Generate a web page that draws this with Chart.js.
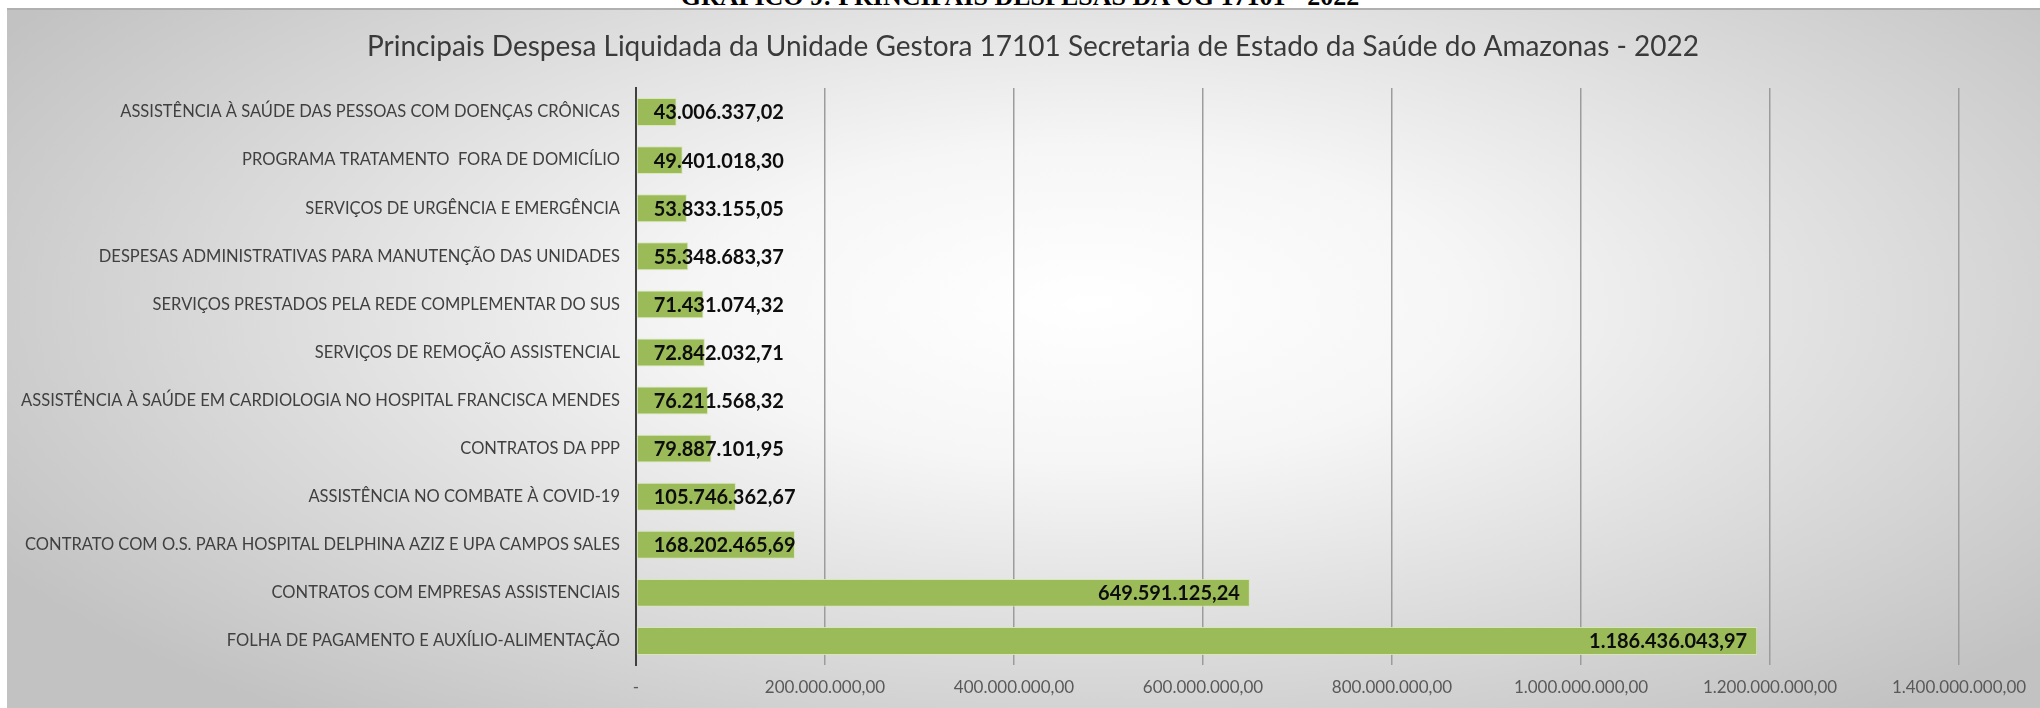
<!DOCTYPE html>
<html>
<head>
<meta charset="utf-8">
<script src="https://cdn.jsdelivr.net/npm/chart.js@4.4.1/dist/chart.umd.min.js"></script>
<style>
  html, body { margin: 0; padding: 0; background: #ffffff; }
  body { width: 2040px; height: 708px; position: relative; overflow: hidden; }
  #header {
    position: absolute; left: 0; top: -16px; width: 2040px;
    text-align: center;
    font-family: "Liberation Serif", serif; font-weight: bold; font-size: 26px; color: #000;
    line-height: 26px;
  }
  #frame {
    position: absolute; left: 7px; top: 8px; width: 2033px; height: 700px;
    border-top: 2px solid #b0b0b0;
    background: radial-gradient(ellipse 62% 75% at 53% 42%, #ffffff 0%, #f6f6f6 30%, #dcdcdc 65%, #c2c2c2 100%);
  }
</style>
</head>
<body>
<div id="header">GRÁFICO 9: PRINCIPAIS DESPESAS DA UG 17101 - 2022</div>
<div id="frame"><canvas id="despesasChart" width="2033" height="698"></canvas></div>
<script>
// Categories (top to bottom) and liquidated values
const categories = [
    'ASSISTÊNCIA À SAÚDE DAS PESSOAS COM DOENÇAS CRÔNICAS',
    'PROGRAMA TRATAMENTO  FORA DE DOMICÍLIO',
    'SERVIÇOS DE URGÊNCIA E EMERGÊNCIA',
    'DESPESAS ADMINISTRATIVAS PARA MANUTENÇÃO DAS UNIDADES',
    'SERVIÇOS PRESTADOS PELA REDE COMPLEMENTAR DO SUS',
    'SERVIÇOS DE REMOÇÃO ASSISTENCIAL',
    'ASSISTÊNCIA À SAÚDE EM CARDIOLOGIA NO HOSPITAL FRANCISCA MENDES',
    'CONTRATOS DA PPP',
    'ASSISTÊNCIA NO COMBATE À COVID-19',
    'CONTRATO COM O.S. PARA HOSPITAL DELPHINA AZIZ E UPA CAMPOS SALES',
    'CONTRATOS COM EMPRESAS ASSISTENCIAIS',
    'FOLHA DE PAGAMENTO E AUXÍLIO-ALIMENTAÇÃO'
];
const despesaLiquidada = [
    43006337.02, 49401018.30, 53833155.05, 55348683.37, 71431074.32, 72842032.71,
    76211568.32, 79887101.95, 105746362.67, 168202465.69, 649591125.24, 1186436043.97
];
const xTicks = [0, 200000000, 400000000, 600000000, 800000000, 1000000000, 1200000000, 1400000000];

const chartTitle = 'Principais Despesa Liquidada da Unidade Gestora 17101 Secretaria de Estado da Saúde do Amazonas - 2022';

// pt-BR number format: 1.234.567,89
function formatBR(v) {
    const parts = v.toFixed(2).split('.');
    const intPart = parts[0].replace(/\B(?=(\d{3})+(?!\d))/g, '.');
    return intPart + ',' + parts[1];
}

// Title drawn by hand so it sits centred on the whole frame, not the padded box
const frameTitle = {
    id: 'frameTitle',
    afterDraw(chart) {
        const ctx = chart.ctx;
        ctx.save();
        ctx.font = '28px Lato';
        ctx.fillStyle = '#3a3a3a';
        ctx.textAlign = 'center';
        ctx.textBaseline = 'middle';
        ctx.fillText(chartTitle, 1026, 37);
        ctx.restore();
    }
};

// Value labels: at the base for short bars, at the end for long ones
const valueLabels = {
    id: 'valueLabels',
    afterDatasetsDraw(chart) {
        const ctx = chart.ctx;
        const meta = chart.getDatasetMeta(0);
        ctx.save();
        ctx.font = 'bold 20px Lato';
        ctx.fillStyle = '#0d0d0d';
        ctx.textBaseline = 'middle';
        meta.data.forEach((bar, i) => {
            const text = formatBR(despesaLiquidada[i]);
            const w = ctx.measureText(text).width;
            const barLen = bar.x - bar.base;
            if (barLen > w + 40) {
                ctx.textAlign = 'right';
                ctx.fillText(text, bar.x - 10, bar.y + 1);
            } else {
                ctx.textAlign = 'left';
                ctx.fillText(text, bar.base + 17, bar.y + 1);
            }
        });
        ctx.restore();
    }
};

const ctx = document.getElementById('despesasChart').getContext('2d');
const despesasChart = new Chart(ctx, {
    type: 'bar',
    data: {
        labels: categories,
        datasets: [{
            data: despesaLiquidada,
            backgroundColor: '#9bbb59',
            borderColor: 'rgba(215, 232, 180, 0.9)',
            borderWidth: 1,
            borderSkipped: false,
            categoryPercentage: 1,
            barPercentage: 0.58
        }]
    },
    options: {
        indexAxis: 'y',
        responsive: false,
        animation: false,
        layout: { padding: { left: 0, right: 81, top: 78, bottom: 0 } },
        plugins: {
            legend: { display: false },
            tooltip: { enabled: false },
            title: { display: false }
        },
        scales: {
            x: {
                min: 0,
                max: 1400000000,
                afterBuildTicks(scale) {
                    scale.ticks = xTicks.map(v => ({ value: v }));
                },
                afterFit(scale) { scale.height = 43; },
                ticks: {
                    color: '#595959',
                    font: { family: 'Lato', size: 17 },
                    padding: 12,
                    maxRotation: 0,
                    autoSkip: false,
                    callback: v => v === 0 ? '-' : formatBR(v)
                },
                grid: { color: '#9c9c9c', lineWidth: 1.5, drawTicks: false },
                border: { display: false }
            },
            y: {
                afterFit(scale) { scale.width = 629; },
                ticks: {
                    color: '#404040',
                    font: { family: 'Lato', size: 16.5 },
                    padding: 16,
                    autoSkip: false
                },
                grid: { display: false, drawTicks: false },
                border: { display: true, color: '#404040', width: 2 }
            }
        }
    },
    plugins: [valueLabels, frameTitle]
});
</script>
</body>
</html>
